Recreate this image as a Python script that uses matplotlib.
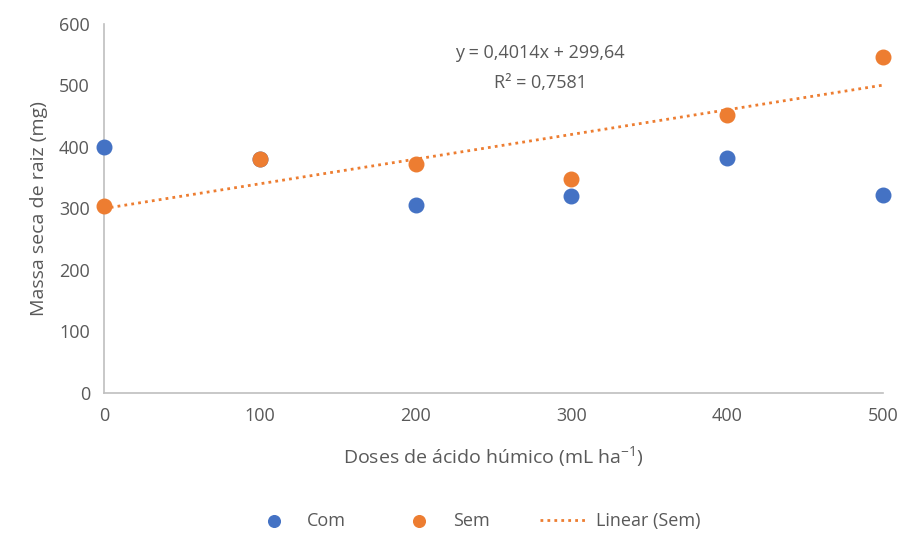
import numpy as np
import matplotlib.pyplot as plt

plt.rcParams['font.family'] = ['Open Sans', 'DejaVu Sans']

doses = [0, 100, 200, 300, 400, 500]
com = [400, 380, 305, 320, 382, 322]
sem = [303, 380, 372, 347, 452, 546]

# trendline coefficients for the "Sem" series
slope, intercept = 0.4014, 299.64

blue = '#4472C4'
orange = '#ED7D31'
grey = '#595959'

fig = plt.figure(figsize=(9.03, 5.41), dpi=100)
ax = fig.add_axes([0.115, 0.274, 0.863, 0.682])

ax.scatter(doses, com, s=110, color=blue, zorder=3, label='Com', clip_on=False)
ax.scatter(doses, sem, s=110, color=orange, zorder=3, label='Sem', clip_on=False)
xs = np.array([0, 500])
ax.plot(xs, intercept + slope * xs, linestyle=(0, (1, 1.5)), color=orange,
        linewidth=2, label='Linear (Sem)', zorder=2)

ax.set_xlim(0, 500)
ax.set_ylim(0, 600)
ax.set_xticks(range(0, 501, 100))
ax.set_yticks(range(0, 601, 100))
ax.tick_params(length=0, labelsize=13, colors=grey, pad=10)
for side in ['top', 'right']:
    ax.spines[side].set_visible(False)
for side in ['left', 'bottom']:
    ax.spines[side].set_color('#BFBFBF')
    ax.spines[side].set_linewidth(1.2)

ax.set_xlabel('Doses de ácido húmico (mL ha$\\mathregular{^{-1}}$)', fontsize=14,
              color=grey, labelpad=14)
ax.set_ylabel('Massa seca de raiz (mg)', fontsize=14, color=grey, labelpad=8)

ax.text(0.56, 0.88, 'y = 0,4014x + 299,64\nR² = 0,7581', transform=ax.transAxes,
        ha='center', va='center', fontsize=13, color=grey, linespacing=1.9)

fig.legend(*ax.get_legend_handles_labels(), loc='center', bbox_to_anchor=(0.527, 0.037),
           ncol=3, frameon=False, fontsize=13, labelcolor=grey, handlelength=2.5,
           handletextpad=0.6, columnspacing=2.8, scatterpoints=1, markerscale=0.8)

fig.savefig('out.png', dpi=100)
